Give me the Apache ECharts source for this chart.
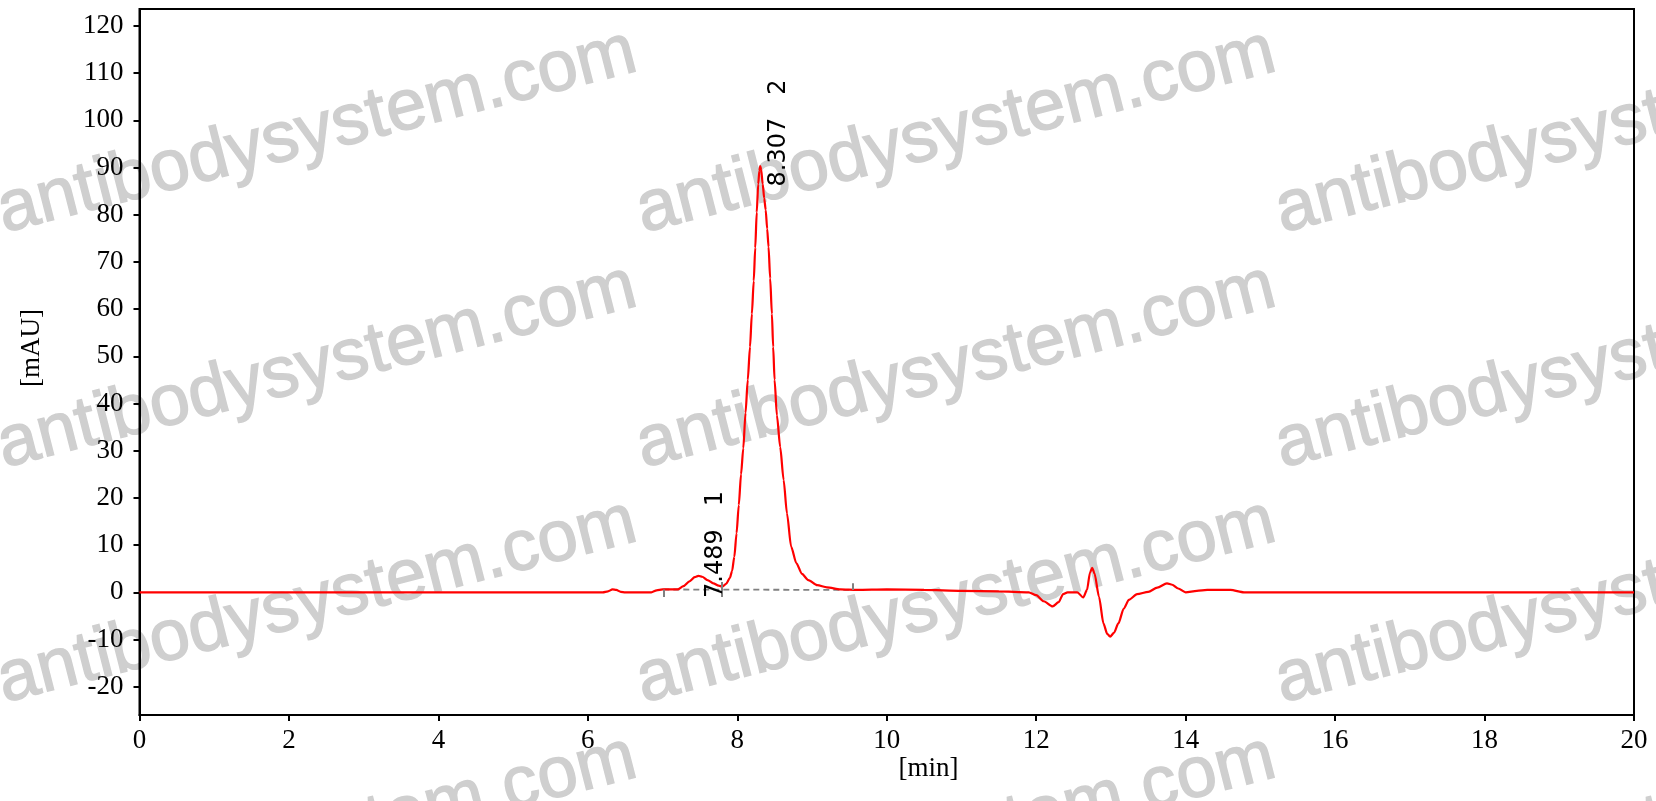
<!DOCTYPE html>
<html><head><meta charset="utf-8">
<script src="https://cdn.jsdelivr.net/npm/echarts@6/dist/echarts.min.js"></script>
<style>html,body{margin:0;padding:0;background:#fff}#c{width:1656px;height:801px}</style>
</head><body><div id="c"></div>
<script>
// Chromatogram data (time in min, signal in mAU)
const times = [0,6.2,6.27,6.33,6.38,6.44,6.5,6.85,6.92,7.0,7.2,7.28,7.36,7.43,7.48,7.53,7.6,7.68,7.75,7.8,7.85,7.9,7.93,7.96,7.99,8.02,8.05,8.08,8.11,8.14,8.17,8.195,8.22,8.24,8.26,8.28,8.295,8.307,8.32,8.34,8.36,8.38,8.40,8.418,8.44,8.463,8.48,8.499,8.53,8.574,8.62,8.665,8.72,8.79,8.865,8.95,9.07,9.2,9.38,9.6,10,10.5,11,11.5,11.9,12.0,12.1,12.22,12.3,12.36,12.42,12.55,12.63,12.68,12.72,12.75,12.78,12.84,12.9,12.95,12.99,13.04,13.1,13.17,13.24,13.35,13.5,13.62,13.75,13.82,13.9,14.0,14.15,14.29,14.6,14.78,20];
const signal = [0,0,0.2,0.6,0.5,0.1,0,0,0.4,0.6,0.6,1.3,2.3,3.2,3.5,3.3,2.6,1.9,1.4,1.2,1.8,3.0,4.5,7.5,12.5,18.5,25,30.5,38,45,52,59,66,73,80.5,86.5,89.3,90.3,89.5,86.5,83.5,81,77,73.2,66.5,59,52,45,37.5,30.8,23.8,16.7,9.7,6.2,3.9,2.6,1.5,1.05,0.6,0.5,0.6,0.5,0.3,0.2,0,-0.6,-1.9,-3.0,-2.1,-0.4,0,0,-1.1,0.5,4.2,5.2,4.0,-0.9,-6.6,-8.8,-9.4,-8.6,-6.6,-3.5,-1.6,-0.4,0.1,1.0,1.9,1.6,0.8,0,0.3,0.5,0.5,0,0];
const xTicks = [0,2,4,6,8,10,12,14,16,18,20];
const yTicks = [-20,-10,0,10,20,30,40,50,60,70,80,90,100,110,120];
// integration baseline and peak markers
const baseTimes = [7.01, 9.55];
const baseValues = [0.6, 0.5];
const markerTimes = [7.01, 7.79, 9.55];
const markerTop = [0.6, 2.2, 1.9];
const markerBottom = [-1.0, -1.0, 0.5];
// peak annotations
const peakTimes = [7.489, 8.307];
const peakNames = ['7.489   1', '8.307   2'];
const peakLabelAnchor = [-1.2, 86.0];
const watermarkText = 'antibodysystem.com';

const chart = echarts.init(document.getElementById('c'));
const serif = 'Liberation Serif, Times New Roman, serif';
const option = {
  animation: false,
  backgroundColor: '#fff',
  grid: {left: 139.5, right: 22, top: 9, bottom: 86, show: true, borderColor: '#000', borderWidth: 2, backgroundColor: 'transparent', z: 1},
  xAxis: {
    type: 'value', min: 0, max: 20, interval: 2,
    axisLine: {show: true, onZero: false, lineStyle: {color: '#000', width: 2}},
    axisTick: {show: true, length: 6, lineStyle: {color: '#000', width: 2}},
    axisLabel: {fontFamily: serif, fontSize: 27, color: '#000', margin: 12},
    splitLine: {show: false}
  },
  yAxis: {
    type: 'value', min: -26, max: 123.6,
    axisLine: {show: true, onZero: false, lineStyle: {color: '#000', width: 2}},
    axisTick: {show: true, length: 6, customValues: yTicks, lineStyle: {color: '#000', width: 2}},
    axisLabel: {fontFamily: serif, fontSize: 27, color: '#000', margin: 16, customValues: yTicks},
    splitLine: {show: false}
  },
  series: [
    {
      type: 'line', name: 'baseline', data: baseTimes.map((t, i) => [t, baseValues[i]]),
      showSymbol: false, silent: true, z: 3,
      lineStyle: {color: '#808080', width: 1.8, type: [6, 4]},
      markLine: {
        symbol: 'none', silent: true, label: {show: false},
        lineStyle: {color: '#808080', width: 2, type: 'solid'},
        data: markerTimes.map((t, i) => [{coord: [t, markerTop[i]]}, {coord: [t, markerBottom[i]]}])
      }
    },
    {
      type: 'line', name: 'signal', data: times.map((t, i) => [t, signal[i]]),
      showSymbol: false, smooth: 0.25, smoothMonotone: 'x', z: 4,
      lineStyle: {color: '#ff0000', width: 2.2}
    }
  ]
};
chart.setOption(option);

const g = [];
// watermark tiles
const wmCols = [317, 956, 1595];
const wmRows = [132, 367, 602, 838];
wmRows.forEach(y => wmCols.forEach(x => {
  g.push({type: 'text', x: x, y: y, rotation: 0.25, z: -10, silent: true,
    style: {text: watermarkText, fill: '#cfcfcf', stroke: '#cfcfcf', lineWidth: 1.4,
      font: '72px "Liberation Sans", Arial, sans-serif', textAlign: 'center', textVerticalAlign: 'middle'}});
}));
// axis titles
g.push({type: 'text', x: 32, y: 348, rotation: Math.PI / 2, z: 10,
  style: {text: '[mAU]', fill: '#000', font: '27px ' + serif, textAlign: 'center', textVerticalAlign: 'middle'}});
g.push({type: 'text', x: 928.5, y: 769, z: 10,
  style: {text: '[min]', fill: '#000', font: '27px ' + serif, textAlign: 'center', textVerticalAlign: 'middle'}});
// peak labels
const offs = [16.5, 19];
peakTimes.forEach((t, i) => {
  const p = chart.convertToPixel({gridIndex: 0}, [t, peakLabelAnchor[i]]);
  g.push({type: 'text', x: p[0] + offs[i], y: p[1], rotation: Math.PI / 2, z: 10,
    style: {text: peakNames[i], fill: '#000', font: '24px "DejaVu Sans", sans-serif', textAlign: 'left', textVerticalAlign: 'middle'}});
});
chart.setOption({graphic: {elements: g}});
</script></body></html>
